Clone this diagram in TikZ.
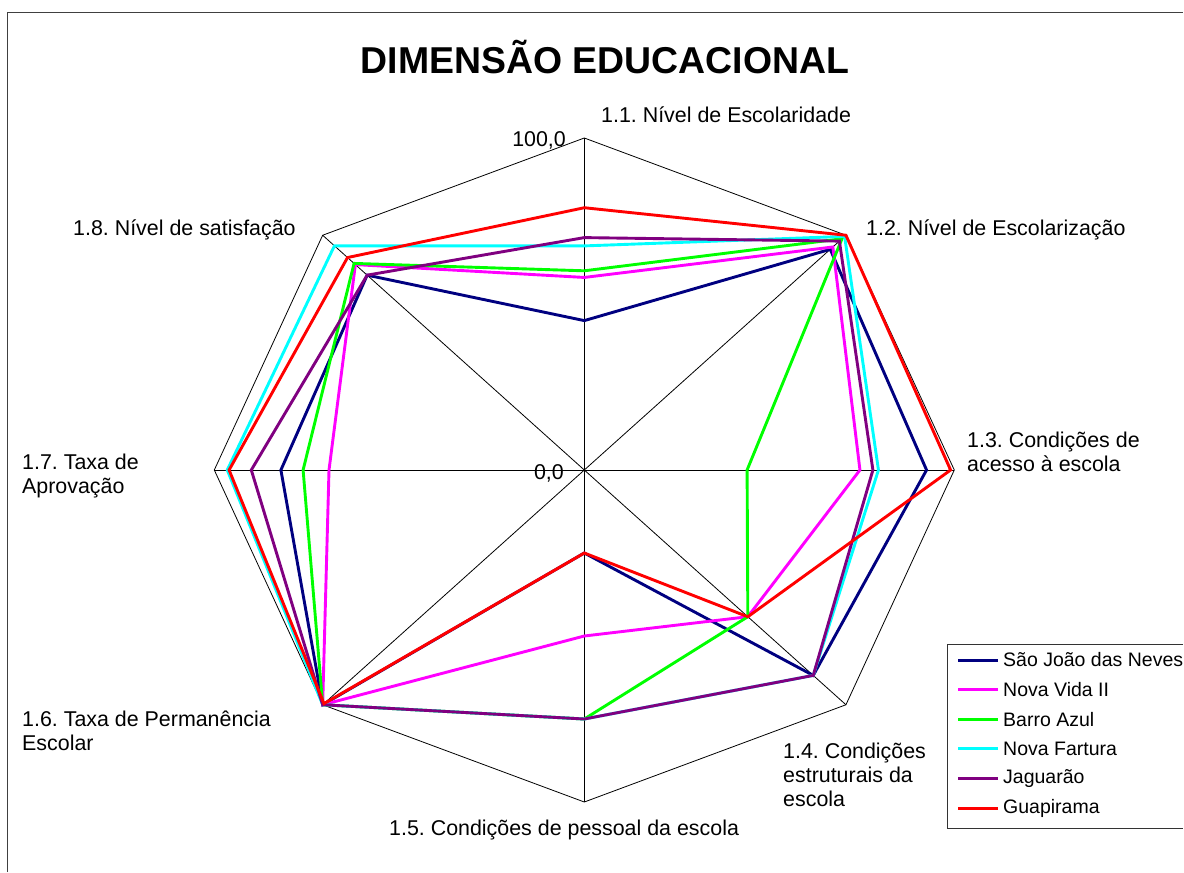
\documentclass[tikz,border=0pt]{standalone}
\usepackage{fontspec}
\setmainfont{Liberation Sans}
\usetikzlibrary{calc, positioning}

\definecolor{sjn}{RGB}{0,0,128}
\definecolor{nvi}{RGB}{255,0,255}
\definecolor{baz}{RGB}{0,255,0}
\definecolor{nfa}{RGB}{0,255,255}
\definecolor{jag}{RGB}{128,0,128}
\definecolor{gua}{RGB}{255,0,0}

\frenchspacing
\begin{document}
\begin{tikzpicture}[x=1pt,y=-1pt,inner sep=0pt,
  lbl/.style={font=\fontsize{21.4}{24}\selectfont,align=left,anchor=west},
  leg/.style={font=\fontsize{19.5}{22}\selectfont,anchor=west},
  gridln/.style={black,line width=.8pt},
  serie/.style={line width=2.9pt,line join=miter}]
\useasboundingbox (0,0) rectangle (1184,873);
\draw [black!75,line width=1pt] (7,872) -- (7,12) -- (1183,12);
\node [font=\bfseries\fontsize{37.4}{40}\selectfont] (title) at (605,57) {DIMENSÃO EDUCACIONAL};
% radar
\begin{scope}[shift={(584.3,470)},x=3.7pt,y=3.32pt]
\coordinate (O) at (0,0);
\foreach \k in {0,...,7} \coordinate (ax\k) at ({90-45*\k}:100);
\foreach \k in {0,...,7} \draw [gridln] (O) -- (ax\k);
\draw [gridln] (ax0) -- (ax1) -- (ax2) -- (ax3) -- (ax4) -- (ax5) -- (ax6) -- (ax7) -- cycle;
\foreach \nm/\vals in {sjn/{45,94,92.5,87.5,25,100,82,83},
                       nvi/{58,95,74.5,62.5,50,100,69,87.5},
                       baz/{60,98.5,44,62.5,75,100,76,88},
                       nfa/{67.5,99.5,79.5,87.5,75,100,96.5,95.5},
                       jag/{70,97.5,78,87.5,75,100,90,83},
                       gua/{79,100,99,62.5,25,99.5,96,90.5}} {
  \foreach \v [count=\k from 0] in \vals \coordinate (\nm\k) at ({90-45*\k}:\v);
  \draw [serie,\nm] (\nm0) -- (\nm1) -- (\nm2) -- (\nm3) -- (\nm4) -- (\nm5) -- (\nm6) -- (\nm7) -- cycle;
}
\end{scope}
% axis labels
\node [lbl,anchor=east] (vmax) at (566,140) {100,0};
\node [lbl,anchor=east] (vmin) at (564,473) {0,0};
\node [lbl] (l1) at (601,115) {1.1. Nível de Escolaridade};
\node [lbl] (l2) at (866,230) {1.2. Nível de Escolarização};
\node [lbl] (l3) at (967,451.5) {1.3. Condições de\\acesso à escola};
\node [lbl] (l4) at (783,774.5) {1.4. Condições\\estruturais da\\escola};
\node [lbl] (l5) at (389,830) {1.5. Condições de pessoal da escola};
\node [lbl] (l6) at (22,731) {1.6. Taxa de Permanência\\Escolar};
\node [lbl] (l7) at (22,476) {1.7. Taxa de\\Aprovação};
\node [lbl] (l8) at (73,230) {1.8. Nível de satisfação};
% legend
\draw [black!80,line width=1pt] (1183,644) -- (947,644) -- (947,828) -- (1183,828);
\foreach \nm/\txt [count=\i from 0] in {sjn/São João das Neves,nvi/Nova Vida II,baz/Barro Azul,
                                       nfa/Nova Fartura,jag/Jaguarão,gua/Guapirama} {
  \coordinate (k\nm) at (958,660+29.6*\i);
  \coordinate (e\nm) at (998,660+29.6*\i);
  \draw [serie,line width=3pt,\nm] (k\nm) -- (e\nm);
  \node [leg,overlay] (t\nm) at (1003,660+29.6*\i) {\txt};
}
\end{tikzpicture}
\end{document}
